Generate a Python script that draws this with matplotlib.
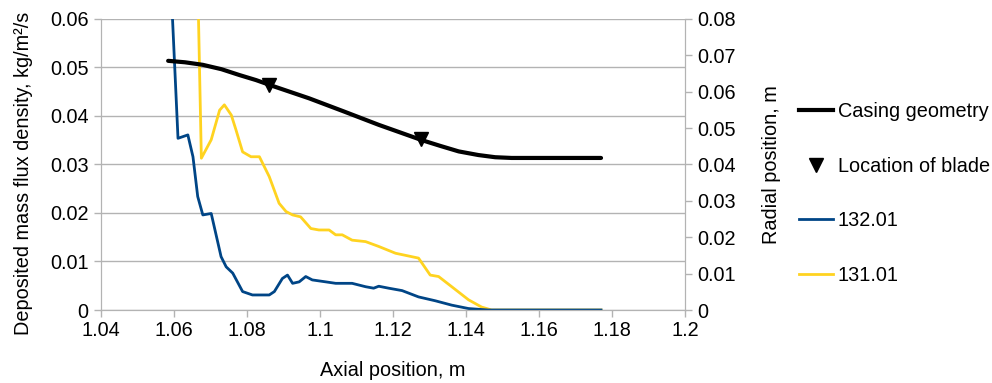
import matplotlib
matplotlib.use("Agg")
import matplotlib.pyplot as plt
from matplotlib.lines import Line2D
from matplotlib.ticker import FuncFormatter, MultipleLocator

plt.rcParams["font.family"] = ["Liberation Sans", "DejaVu Sans"]

# casing geometry (right axis, radial position in m)
casing_x = [1.0584, 1.0630, 1.0679, 1.0730, 1.0779, 1.0825, 1.0870, 1.0920, 1.0970, 1.1065,
            1.1161, 1.1220, 1.1279, 1.1330, 1.1380, 1.1434, 1.1480, 1.1525, 1.1770]
casing_r = [0.0685, 0.0681, 0.0674, 0.0662, 0.0646, 0.0632, 0.0616, 0.0599, 0.0582, 0.0546,
            0.0509, 0.0488, 0.0467, 0.0451, 0.0436, 0.0426, 0.0420, 0.0418, 0.0418]

# blade locations (right axis)
blade_x = [1.0861, 1.1278]
blade_r = [0.0619, 0.0470]

# deposited mass flux, case 132.01 (left axis)
c132_x = [1.0585, 1.0596, 1.0611, 1.0638, 1.0652, 1.0665, 1.0679, 1.0702, 1.0729, 1.0743,
          1.0761, 1.0788, 1.0815, 1.0861, 1.0875, 1.0897, 1.0911, 1.0925, 1.0943, 1.0961,
          1.0979, 1.1016, 1.1043, 1.1088, 1.1125, 1.1147, 1.1161, 1.1188, 1.1225, 1.1270,
          1.1316, 1.1361, 1.1407, 1.1461, 1.1770]
c132_y = [0.0750, 0.0600, 0.0354, 0.0361, 0.0316, 0.0234, 0.0196, 0.0199, 0.0110, 0.0089,
          0.0076, 0.0038, 0.0031, 0.0031, 0.0038, 0.0065, 0.0072, 0.0055, 0.0058, 0.0069,
          0.0062, 0.0058, 0.0055, 0.0055, 0.0048, 0.0045, 0.0049, 0.0045, 0.0040, 0.0027,
          0.0019, 0.0010, 0.0003, 0.0, 0.0]

# deposited mass flux, case 131.01 (left axis)
c131_x = [1.0659, 1.0675, 1.0702, 1.0725, 1.0738, 1.0757, 1.0770, 1.0788, 1.0811, 1.0834,
          1.0861, 1.0888, 1.0907, 1.0925, 1.0947, 1.0975, 1.0997, 1.1025, 1.1043, 1.1061,
          1.1088, 1.1125, 1.1161, 1.1207, 1.1270, 1.1302, 1.1325, 1.1361, 1.1407, 1.1443,
          1.1470, 1.1770]
c131_y = [0.0900, 0.0313, 0.0351, 0.0412, 0.0423, 0.0402, 0.0371, 0.0326, 0.0316, 0.0316,
          0.0275, 0.0220, 0.0203, 0.0196, 0.0192, 0.0168, 0.0165, 0.0165, 0.0155, 0.0155,
          0.0144, 0.0141, 0.0131, 0.0117, 0.0107, 0.0072, 0.0069, 0.0048, 0.0021, 0.0006,
          0.0, 0.0]

BLUE = "#004586"
YELLOW = "#ffd320"
GRID = "#b3b3b3"
FS = 14.3
fmt = FuncFormatter(lambda v, p: "%g" % round(v, 6))

fig = plt.figure(figsize=(9.92, 3.83), dpi=100)
ax = fig.add_axes([0.1018, 0.1906, 0.5887, 0.7598])
ax2 = ax.twinx()

ax.plot(c131_x, c131_y, color=YELLOW, lw=2.0, label="131.01")
ax.plot(c132_x, c132_y, color=BLUE, lw=2.0, label="132.01")
ax2.plot(casing_x, casing_r, color="black", lw=3.0, solid_capstyle="round")
ax2.plot(blade_x, blade_r, ls="none", marker="v", color="black", ms=10)

ax.set_xlim(1.04, 1.2)
ax.set_ylim(0, 0.06)
ax2.set_ylim(0, 0.08)
ax.xaxis.set_major_locator(MultipleLocator(0.02))
ax.yaxis.set_major_locator(MultipleLocator(0.01))
ax2.yaxis.set_major_locator(MultipleLocator(0.01))
for a in (ax, ax2):
    a.xaxis.set_major_formatter(fmt)
    a.yaxis.set_major_formatter(fmt)
    a.tick_params(labelsize=FS, color=GRID, length=5, width=1)
    a.spines["top"].set_visible(False)
    for s in ("left", "right", "bottom"):
        a.spines[s].set_color(GRID)
ax.tick_params(axis="y", pad=4)
ax.tick_params(axis="x", pad=3)
ax2.tick_params(axis="y", pad=4)
ax.grid(axis="y", color=GRID, lw=1)
ax.set_axisbelow(True)

ax.set_xlabel("Axial position, m", fontsize=FS, labelpad=15)
ax.set_ylabel("Deposited mass flux density, kg/m\u00b2/s", fontsize=FS)
ax.yaxis.set_label_coords(-0.1164, 0.47)
ax2.set_ylabel("Radial position, m", fontsize=FS, labelpad=19)

handles = [
    Line2D([], [], color="black", lw=3.0),
    Line2D([], [], ls="none", marker="v", color="black", ms=10),
    Line2D([], [], color=BLUE, lw=2.0),
    Line2D([], [], color=YELLOW, lw=2.0),
]
labels = ["Casing geometry", "Location of blade", "132.01", "131.01"]
fig.legend(handles, labels, loc="center left", bbox_to_anchor=(0.7974, 0.495),
           frameon=False, fontsize=FS, labelspacing=1.80, handlelength=1.71,
           handletextpad=0.25, borderaxespad=0)

fig.savefig("out.png", dpi=100)
